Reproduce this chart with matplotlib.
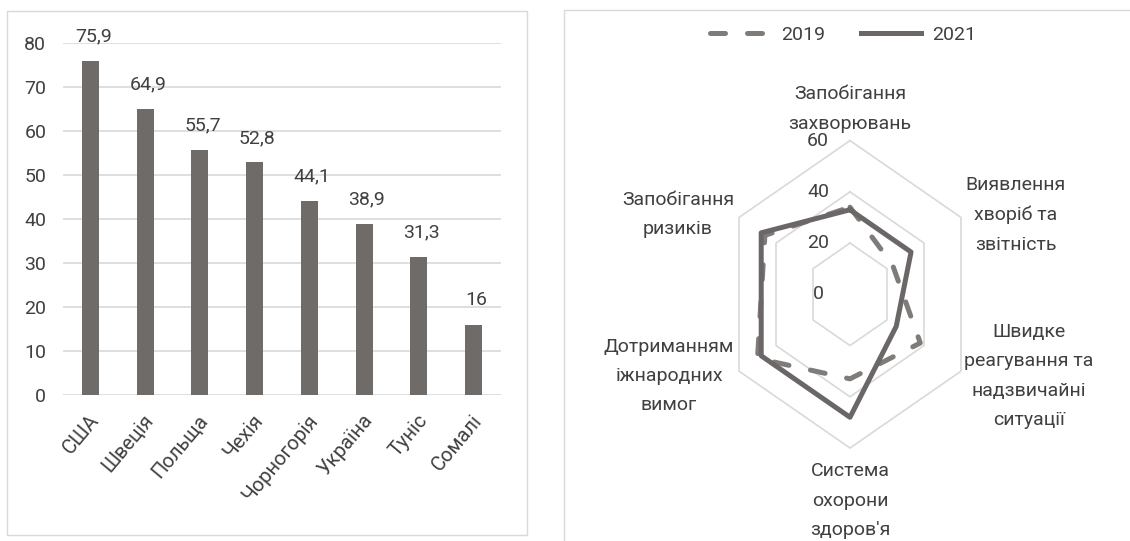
import numpy as np
import matplotlib
matplotlib.use('Agg')
import matplotlib.pyplot as plt
from matplotlib.patches import Rectangle
from matplotlib.transforms import ScaledTranslation

plt.rcParams['font.family'] = ['Roboto', 'DejaVu Sans']
plt.rcParams['font.size'] = 14

# ---------------- дані ----------------
countries = ['США', 'Швеція', 'Польща', 'Чехія', 'Чорногорія', 'Україна', 'Туніс', 'Сомалі']
index_values = [75.9, 64.9, 55.7, 52.8, 44.1, 38.9, 31.3, 16]
bar_labels = ['75,9', '64,9', '55,7', '52,8', '44,1', '38,9', '31,3', '16']
bar_ticks = [0, 10, 20, 30, 40, 50, 60, 70, 80]

categories = ['Запобігання\nзахворювань',
              'Виявлення\nхворіб та\nзвітність',
              'Швидке\nреагування та\nнадзвичайні\nситуації',
              "Система\nохорони\nздоров'я",
              'Дотриманням\nіжнародних\nвимог',
              'Запобігання\nризиків']
values_2019 = [34, 23, 38, 33, 50, 46]
values_2021 = [33, 33, 25, 48, 48, 48]
radar_ticks = [0, 20, 40, 60]
series_names = ['2019', '2021']

# кольори
text_c = '#404040'
bar_c = '#6f6b69'
grid_c = '#d9d9d9'
solid_c = '#6b6766'
dash_c = '#7f7b79'

W, H = 1130, 541
fig = plt.figure(figsize=(W / 100, H / 100), dpi=100)


def px_rect(x0, y0, x1, y1):
    # пікселі (від верхнього лівого кута) -> частки фігури
    return [x0 / W, 1 - y1 / H, (x1 - x0) / W, (y1 - y0) / H]


# рамки панелей
fig.add_artist(Rectangle((7 / W, 1 - 535 / H), 520 / W, 524.5 / H,
                         transform=fig.transFigure, fill=False, ec=grid_c, lw=1))
fig.add_artist(Rectangle((564 / W, -0.05), 0.6, 1.05 - 10.5 / H,
                         transform=fig.transFigure, fill=False, ec=grid_c, lw=1))

# ---------------- стовпчикова діаграма ----------------
ax = fig.add_axes(px_rect(63, 42.5, 501, 395))
x = np.arange(len(countries))
ax.bar(x, index_values, width=0.31, color=bar_c, zorder=2)
for xi, v, lab in zip(x, index_values, bar_labels):
    ax.annotate(lab, (xi, v), xytext=(2, 14), textcoords='offset points',
                ha='center', va='baseline', color=text_c)
ax.set_xlim(-0.5, len(countries) - 0.5)
ax.set_ylim(0, 80)
ax.set_yticks(bar_ticks)
ax.yaxis.grid(True, color=grid_c, lw=1.2)
ax.set_axisbelow(True)
for s in ax.spines.values():
    s.set_visible(False)
ax.tick_params(length=0, colors=text_c)
ax.tick_params(axis='y', pad=12)
ax.set_xticks(x)
ax.set_xticklabels(countries, rotation=50, ha='right', va='center',
                   rotation_mode='anchor', fontsize=14.5)
ax.tick_params(axis='x', pad=16)
shift = ScaledTranslation(0.05, 0, fig.dpi_scale_trans)
for t in ax.get_xticklabels():
    t.set_transform(t.get_transform() + shift)

# ---------------- пелюсткова діаграма ----------------
cx, cy = 850, 294.3          # центр, px
sx, sy = 2.136, 2.562        # px на одиницю (зображення стиснуте по горизонталі)
x0, x1, y0, y1 = 600, 1100, 50, 540
ax2 = fig.add_axes(px_rect(x0, y0, x1, y1))
ax2.set_xlim((x0 - cx) / sx, (x1 - cx) / sx)
ax2.set_ylim((cy - y1) / sy, (cy - y0) / sy)
ax2.axis('off')

n = len(categories)
ang = np.deg2rad(90 - 60 * np.arange(n))
ang_c = np.append(ang, ang[0])

for r in radar_ticks[1:]:
    ax2.plot(r * np.cos(ang_c), r * np.sin(ang_c), color=grid_c, lw=1.2, zorder=1)
for r in radar_ticks:
    ax2.text(-15, r, str(r), ha='center', va='center', color=text_c)

v19 = np.append(values_2019, values_2019[0])
v21 = np.append(values_2021, values_2021[0])
l19, = ax2.plot(v19 * np.cos(ang_c), v19 * np.sin(ang_c), color=dash_c, lw=3.6,
                dashes=(3, 4.4), dash_capstyle='round', label=series_names[0], zorder=3)
l21, = ax2.plot(v21 * np.cos(ang_c), v21 * np.sin(ang_c), color=solid_c, lw=3.6,
                solid_joinstyle='round', label=series_names[1], zorder=4)

label_pos = [(0, 72.3), (77.7, 31), (83.8, -31.9), (0, -80.5), (-84.7, -31.9), (-80.5, 31)]
for (lx, ly), lab in zip(label_pos, categories):
    ax2.text(lx, ly, lab, ha='center', va='center', color=text_c,
             linespacing=1.8, clip_on=False)

fig.legend(handles=[l19, l21], loc='center', bbox_to_anchor=(843 / W, 1 - 35 / H),
           ncol=2, frameon=False, handlelength=3.1, handletextpad=0.6,
           columnspacing=1.8, labelcolor=text_c)

fig.savefig('out.png', dpi=100)
